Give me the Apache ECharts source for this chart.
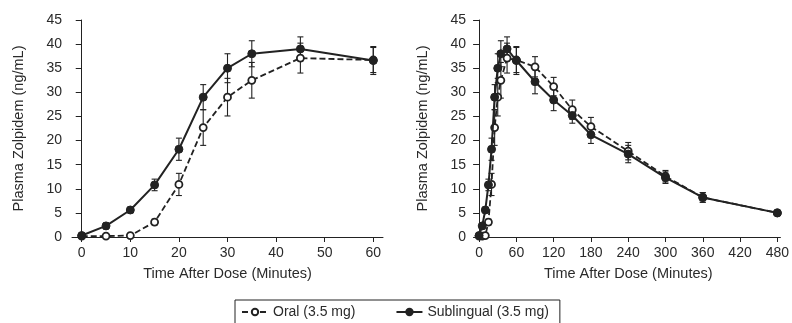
<!DOCTYPE html>
<html>
<head>
<meta charset="utf-8">
<script src="https://cdn.jsdelivr.net/npm/echarts@6/dist/echarts.min.js"></script>
<style>
html,body{margin:0;padding:0;background:#fff;}
#chart{width:792px;height:323px;}
</style>
</head>
<body>
<div id="chart"></div>
<script>
// ---- Data ----
const leftTimes = [0, 5, 10, 15, 20, 25, 30, 35, 45, 60];
const leftOral = [0.2, 0.2, 0.3, 3.1, 10.9, 22.7, 29.0, 32.5, 37.1, 36.7];
const leftOralErr = [0, 0.2, 0.3, 0.6, 2.3, 3.7, 3.9, 3.7, 3.1, 2.6];
const leftSub = [0.3, 2.3, 5.6, 10.8, 18.2, 29.0, 35.0, 38.0, 39.0, 36.6];
const leftSubErr = [0.3, 0.6, 0.6, 1.2, 2.3, 2.6, 3.0, 2.7, 2.5, 2.9];

const rightTimes = [0, 5, 10, 15, 20, 25, 30, 35, 45, 60, 90, 120, 150, 180, 240, 300, 360, 480];
const rightOral = [0.2, 0.2, 0.3, 3.1, 10.9, 22.7, 29.0, 32.5, 37.1, 36.7, 35.3, 31.2, 26.4, 22.9, 17.8, 12.6, 8.2, 5.0];
const rightOralErr = [0, 0.2, 0.3, 0.6, 2.3, 3.7, 3.9, 3.7, 3.1, 2.6, 2.1, 1.9, 2.0, 1.9, 1.8, 1.2, 1.0, 0.5];
const rightSub = [0.3, 2.3, 5.6, 10.8, 18.2, 29.0, 35.0, 38.0, 39.0, 36.6, 32.2, 28.4, 25.2, 21.2, 17.2, 12.3, 8.2, 5.0];
const rightSubErr = [0.3, 0.6, 0.6, 1.2, 2.3, 2.6, 3.0, 2.7, 2.5, 2.9, 2.5, 2.2, 1.6, 1.8, 1.8, 1.2, 1.0, 0.5];

const leftTicks = [0, 10, 20, 30, 40, 50, 60];
const rightTicks = [0, 60, 120, 180, 240, 300, 360, 420, 480];
const yTicksMin = 0, yTicksMax = 45, yTickStep = 5;

const seriesNames = ['Oral (3.5 mg)', 'Sublingual (3.5 mg)'];
const xTitle = 'Time After Dose (Minutes)';
const yTitle = 'Plasma Zolpidem (ng/mL)';

// ---- Styles ----
const ink = '#222';
const textInk = '#2a2a2a';
const font = "'Liberation Sans', Arial, sans-serif";

function pairs(t, v) { return t.map((x, i) => [x, v[i]]); }
function errData(t, v, e) { return t.map((x, i) => [x, v[i] - e[i], v[i] + e[i]]); }

function errSeries(idx, t, v, e) {
  return {
    type: 'custom', xAxisIndex: idx, yAxisIndex: idx, z: 1,
    silent: true,
    encode: { x: 0, y: [1, 2] },
    data: errData(t, v, e),
    renderItem: function (params, api) {
      const x = api.value(0), lo = api.value(1), hi = api.value(2);
      const a = api.coord([x, lo]), b = api.coord([x, hi]);
      const w = 3;
      const st = { stroke: ink, lineWidth: 1.1, fill: null };
      return {
        type: 'group',
        children: [
          { type: 'line', shape: { x1: a[0], y1: a[1], x2: b[0], y2: b[1] }, style: st },
          { type: 'line', shape: { x1: a[0] - w, y1: a[1], x2: a[0] + w, y2: a[1] }, style: st },
          { type: 'line', shape: { x1: b[0] - w, y1: b[1], x2: b[0] + w, y2: b[1] }, style: st }
        ]
      };
    }
  };
}

function oralSeries(idx, t, v) {
  return {
    name: seriesNames[0], type: 'line', xAxisIndex: idx, yAxisIndex: idx, z: 3,
    data: pairs(t, v),
    symbol: 'circle', symbolSize: 7,
    itemStyle: { color: '#fff', borderColor: ink, borderWidth: 1.8 },
    lineStyle: { color: ink, width: 1.8, type: [6, 3] },
    animation: false
  };
}
function subSeries(idx, t, v) {
  return {
    name: seriesNames[1], type: 'line', xAxisIndex: idx, yAxisIndex: idx, z: 4,
    data: pairs(t, v),
    symbol: 'circle', symbolSize: 8,
    itemStyle: { color: ink, borderColor: ink, borderWidth: 1 },
    lineStyle: { color: ink, width: 2 },
    animation: false
  };
}

function xAxis(idx, min, max, ticks) {
  return {
    type: 'value', gridIndex: idx, min: min, max: max,
    name: xTitle, nameLocation: 'middle', nameGap: 29,
    nameTextStyle: { color: textInk, fontSize: 14.5, fontFamily: font, verticalAlign: 'top' },
    axisLine: { show: true, onZero: false, lineStyle: { color: ink, width: 1 } },
    axisTick: { show: true, length: 5, customValues: ticks, lineStyle: { color: ink } },
    axisLabel: { customValues: ticks, color: textInk, fontSize: 14, fontFamily: font, margin: 9 },
    splitLine: { show: false }
  };
}
function yAxis(idx) {
  return {
    type: 'value', gridIndex: idx, min: yTicksMin, max: yTicksMax, interval: yTickStep,
    name: yTitle, nameLocation: 'middle', nameGap: 46, nameRotate: 90,
    nameTextStyle: { color: textInk, fontSize: 14.5, fontFamily: font },
    axisLine: { show: true, lineStyle: { color: ink, width: 1 } },
    axisTick: { show: true, length: 6, lineStyle: { color: ink } },
    axisLabel: { color: textInk, fontSize: 14, fontFamily: font, margin: 10 },
    splitLine: { show: false }
  };
}

const chart = echarts.init(document.getElementById('chart'), null, { renderer: 'canvas' });
chart.setOption({
  animation: false,
  backgroundColor: '#fff',
  grid: [
    { left: 72, top: 20, width: 311, height: 217 },
    { left: 476, top: 20, width: 311, height: 217 }
  ],
  xAxis: [xAxis(0, -2, 62, leftTicks), xAxis(1, -5, 485, rightTicks)],
  yAxis: [yAxis(0), yAxis(1)],
  legend: {
    data: seriesNames,
    left: 235, top: 300,
    borderColor: ink, borderWidth: 1,
    padding: [5, 11, 5, 6],
    itemGap: 40, itemWidth: 26, itemHeight: 8,
    textStyle: { color: textInk, fontSize: 14, fontFamily: font }
  },
  series: [
    errSeries(0, leftTimes, leftOral, leftOralErr),
    errSeries(0, leftTimes, leftSub, leftSubErr),
    oralSeries(0, leftTimes, leftOral),
    subSeries(0, leftTimes, leftSub),
    errSeries(1, rightTimes, rightOral, rightOralErr),
    errSeries(1, rightTimes, rightSub, rightSubErr),
    oralSeries(1, rightTimes, rightOral),
    subSeries(1, rightTimes, rightSub)
  ]
});
</script>
</body>
</html>
